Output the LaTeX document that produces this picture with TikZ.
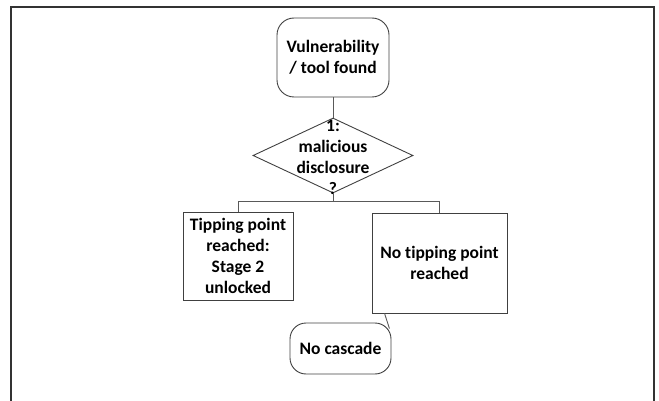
\documentclass[tikz,border=0pt]{standalone}
\usepackage{fontspec}
\setmainfont[Ligatures={NoCommon}]{Carlito}
\usetikzlibrary{shapes.geometric,calc}
\tikzset{
  every node/.style={font=\fontsize{17.5}{21}\selectfont\bfseries, text=black, align=center, inner sep=0pt},
  terminal/.style={draw=black!75, line width=0.9pt, rounded corners=17pt},
  stepbox/.style={draw=black!75, line width=0.9pt, rectangle},
  decision/.style={draw=black!75, line width=0.9pt, diamond, minimum width=160pt, minimum height=75pt},
  link/.style={draw=black!65, line width=0.9pt},
  frame/.style={draw=black!80, line width=2pt}
}
\begin{document}
\begin{tikzpicture}[x=1pt,y=-1pt]
  \useasboundingbox (0,0) rectangle (659,401);
  % open frame round the chart
  \draw[frame] (11,401) -- (11,7.5) -- (654,7.5) -- (654,401);

  \node[terminal, minimum width=112pt, minimum height=79pt] (found) at (333,57.5) {Vulnerability\\/ tool found};
  \node[decision] (q) at (333,155.5) {};
  \node (qtext) at (333,157.5) {1:\\malicious\\disclosure\\?};
  \node[stepbox, minimum width=110pt, minimum height=88pt] (tip) at (238,256) {Tipping point\\reached:\\Stage 2\\unlocked};
  \node[stepbox, minimum width=135pt, minimum height=100pt] (notip) at (439.5,263) {No tipping point\\reached};
  \node[terminal, rounded corners=16pt, minimum width=101pt, minimum height=51pt] (casc) at (340.5,348.5) {No cascade};

  \coordinate (split) at (333,201.6);
  \coordinate (notipfoot) at ($(notip.south west)+(13,0)$);
  \coordinate (cascjoin) at ($(casc.north east)+(-2,6)$);

  \draw[link] (found.south) -- (q.north);
  \draw[link] (q.south) -- (split);
  \draw[link] (tip.north) |- (split) -| (notip.north);
  \draw[link] (notipfoot) -- (cascjoin);
\end{tikzpicture}
\end{document}
